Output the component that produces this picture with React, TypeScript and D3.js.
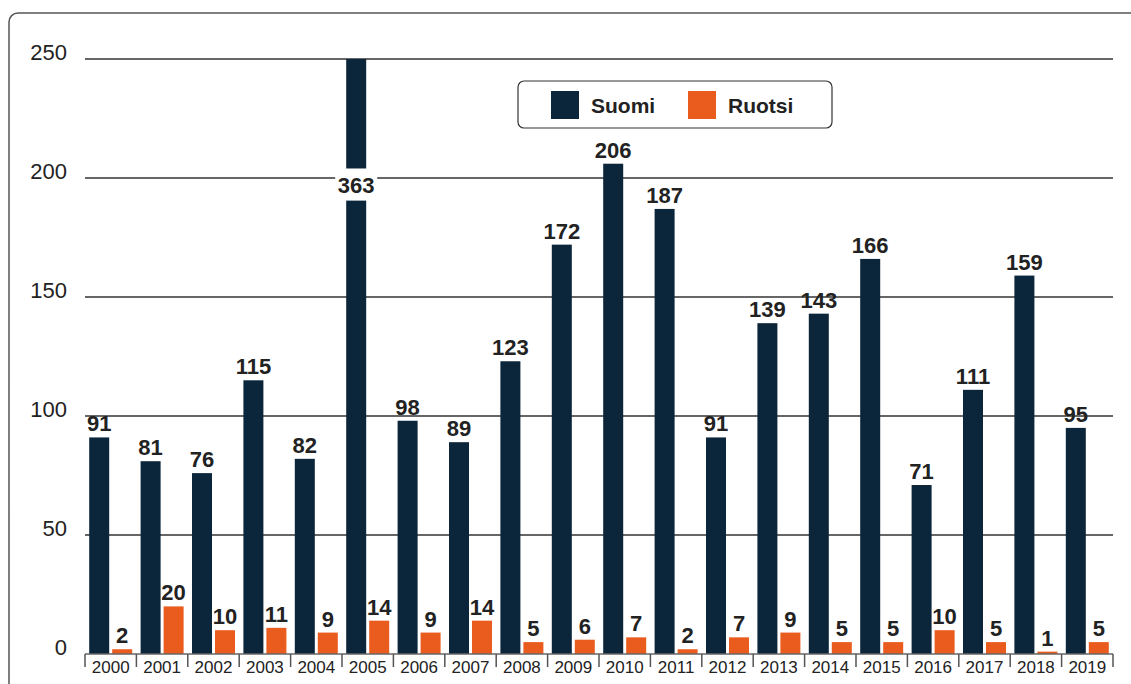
import * as d3 from 'd3'
import { useEffect, useRef } from 'react'

const years = ['2000', '2001', '2002', '2003', '2004', '2005', '2006', '2007', '2008', '2009',
  '2010', '2011', '2012', '2013', '2014', '2015', '2016', '2017', '2018', '2019']
const suomi = [91, 81, 76, 115, 82, 363, 98, 89, 123, 172, 206, 187, 91, 139, 143, 166, 71, 111, 159, 95]
const ruotsi = [2, 20, 10, 11, 9, 14, 9, 14, 5, 6, 7, 2, 7, 9, 5, 5, 10, 5, 1, 5]
const yTicks = [0, 50, 100, 150, 200, 250]
const seriesNames = ['Suomi', 'Ruotsi']

const colors = ['#0b263b', '#e95c1e']
const font = '"Liberation Sans", Arial, Helvetica, sans-serif'

export default function App() {
  const ref = useRef<SVGSVGElement>(null)

  useEffect(() => {
    if (!ref.current) return
    const width = 1131
    const height = 684
    const left = 85
    const right = 1113
    const top = 59
    const bottom = 654
    const yMax = 250

    const svg = d3.select(ref.current)
      .attr('width', width)
      .attr('height', height)
    svg.selectAll('*').remove()

    // outer frame (runs off the right and bottom edges)
    svg.append('rect')
      .attr('x', 9)
      .attr('y', 13)
      .attr('width', width + 20)
      .attr('height', height + 20)
      .attr('rx', 9)
      .attr('fill', 'none')
      .attr('stroke', '#555')
      .attr('stroke-width', 1.5)

    const x = d3.scaleBand<string>().domain(years).range([left, right]).paddingInner(0).paddingOuter(0)
    const y = d3.scaleLinear().domain([0, yMax]).range([bottom, top])

    const g = svg.append('g')

    // gridlines
    g.selectAll('line.grid').data(yTicks.filter(d => d > 0)).enter()
      .append('line')
      .attr('class', 'grid')
      .attr('x1', left)
      .attr('x2', right)
      .attr('y1', d => y(d))
      .attr('y2', d => y(d))
      .attr('stroke', '#333')
      .attr('stroke-width', 1.5)

    // y labels
    g.selectAll('text.ytick').data(yTicks).enter()
      .append('text')
      .attr('class', 'ytick')
      .attr('x', 67)
      .attr('y', d => y(d) + 1)
      .attr('text-anchor', 'end')
      .attr('font-family', font)
      .attr('font-size', 22)
      .attr('fill', '#222')
      .text(d => d)

    const bw = 20
    const gap = 3
    const pad = (x.bandwidth() - bw * 2 - gap) / 2
    const barX = (i: number, s: number) => (x(years[i]) as number) + pad + s * (bw + gap)

    const series = [suomi, ruotsi]
    series.forEach((vals, s) => {
      g.selectAll(`rect.bar${s}`).data(vals).enter()
        .append('rect')
        .attr('class', `bar${s}`)
        .attr('x', (_d, i) => barX(i, s))
        .attr('width', bw)
        .attr('y', d => y(Math.min(d, yMax)))
        .attr('height', d => bottom - y(Math.min(d, yMax)))
        .attr('fill', colors[s])
    })

    // break on values above the axis max
    const gapTop = y(204)
    const gapBottom = y(190.5)
    suomi.forEach((d, i) => {
      if (d <= yMax) return
      const cx = barX(i, 0) + bw / 2
      g.append('rect')
        .attr('x', cx - 21)
        .attr('y', gapTop)
        .attr('width', 42)
        .attr('height', gapBottom - gapTop)
        .attr('fill', '#fff')
      g.append('text')
        .attr('x', cx)
        .attr('y', (gapTop + gapBottom) / 2 + 8)
        .attr('text-anchor', 'middle')
        .attr('font-family', font)
        .attr('font-weight', 'bold')
        .attr('font-size', 22)
        .attr('fill', '#222')
        .text(d)
    })

    // value labels
    series.forEach((vals, s) => {
      g.selectAll(`text.val${s}`).data(vals.map((v, i) => ({ v, i })).filter(d => d.v <= yMax)).enter()
        .append('text')
        .attr('class', `val${s}`)
        .attr('x', d => barX(d.i, s) + bw / 2)
        .attr('y', d => y(d.v) - 6)
        .attr('text-anchor', 'middle')
        .attr('font-family', font)
        .attr('font-weight', 'bold')
        .attr('font-size', 22)
        .attr('fill', '#222')
        .text(d => d.v)
    })

    // x axis
    g.append('line')
      .attr('x1', left)
      .attr('x2', right)
      .attr('y1', bottom)
      .attr('y2', bottom)
      .attr('stroke', '#666')
      .attr('stroke-width', 1.5)
    const bounds = years.map(d => x(d) as number).concat([right])
    g.selectAll('line.xtick').data(bounds).enter()
      .append('line')
      .attr('class', 'xtick')
      .attr('x1', d => d)
      .attr('x2', d => d)
      .attr('y1', bottom)
      .attr('y2', bottom + 13)
      .attr('stroke', '#555')
      .attr('stroke-width', 1.5)
    g.selectAll('text.xlab').data(years).enter()
      .append('text')
      .attr('class', 'xlab')
      .attr('x', d => (x(d) as number) + x.bandwidth() / 2)
      .attr('y', 673)
      .attr('text-anchor', 'middle')
      .attr('font-family', font)
      .attr('font-size', 17)
      .attr('fill', '#222')
      .text(d => d)

    // legend
    const lg = svg.append('g')
    lg.append('rect')
      .attr('x', 518)
      .attr('y', 81)
      .attr('width', 314)
      .attr('height', 47)
      .attr('rx', 6)
      .attr('fill', '#fff')
      .attr('stroke', '#333')
      .attr('stroke-width', 1.2)
    const legendX = [551, 688]
    seriesNames.forEach((name, i) => {
      lg.append('rect')
        .attr('x', legendX[i])
        .attr('y', 91)
        .attr('width', 28)
        .attr('height', 28)
        .attr('fill', colors[i])
      lg.append('text')
        .attr('x', legendX[i] + 40)
        .attr('y', 113)
        .attr('font-family', font)
        .attr('font-weight', 'bold')
        .attr('font-size', 21)
        .attr('fill', '#222')
        .text(name)
    })
  }, [])

  return (
    <svg ref={ref} style={{ position: 'absolute', left: 0, top: 0, display: 'block' }} />
  )
}
